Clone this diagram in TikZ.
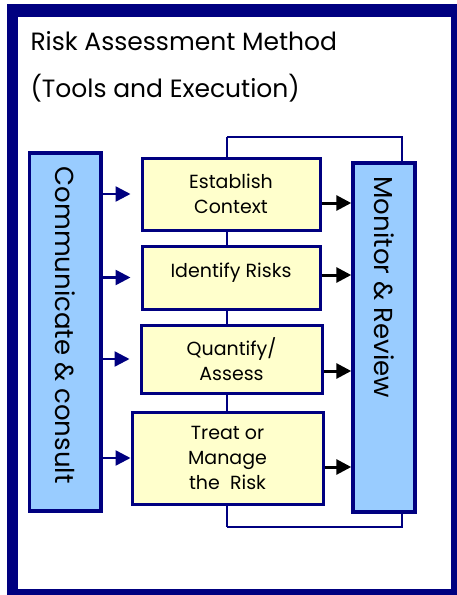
\documentclass[tikz,border=0pt]{standalone}
\usepackage{fontspec}
\setmainfont{Poppins}
\usetikzlibrary{arrows.meta}
\definecolor{frame}{HTML}{000080}
\definecolor{sidebox}{HTML}{99CCFF}
\definecolor{stepfill}{HTML}{FFFFCC}
\tikzset{%
    stage/.style={draw=frame, line width=3pt, fill=stepfill, align=center,
        font=\fontsize{19}{25}\selectfont, inner sep=0pt},
    side/.style={draw=frame, line width=3.5pt, fill=sidebox, inner sep=0pt},
    sidetext/.style={rotate=-90, anchor=west, font=\fontsize{26}{30}\selectfont},
    feed/.style={draw=frame, line width=2.5pt, -{Triangle[length=15pt,width=15pt]}},
    report/.style={draw=black, line width=3pt, -{Triangle[length=15pt,width=15pt]}},
    loopline/.style={draw=frame, line width=1.2pt}
}

\begin{document}
\begin{tikzpicture}[x=1pt,y=-1pt]
      \useasboundingbox (0,0) rectangle (456,595);
      \fill[frame] (7,4) rectangle (462,601);
      \fill[white] (18,17) rectangle (451,589);

      \node[anchor=base west, font=\fontsize{25}{28}\selectfont] (title) at (27,50) {Risk Assessment Method};
      \node[anchor=base west, font=\fontsize{25}{28}\selectfont] (subtitle) at (27,97) {(Tools and Execution)};

      \coordinate (topL) at (227,137);
      \coordinate (topR) at (402,137);
      \coordinate (botL) at (227,527);
      \coordinate (botR) at (402,527);
      \draw[loopline] (topL) -- (botL);

      \node[side, minimum width=71.5, minimum height=358] (comm) at (65,332) {};
      \node[sidetext] (commtext) at (65.5,163) {Communicate \& consult};
      \node[side, minimum width=62, minimum height=349] (mon) at (384,337.5) {};
      \node[sidetext] (montext) at (384.5,173) {Monitor \& Review};

      \node[stage, minimum width=178, minimum height=72] (est) at (231,194) {Establish\\Context};
      \node[stage, minimum width=178, minimum height=63, text depth=14pt] (ident) at (231,277.5) {Identify Risks};
      \node[stage, minimum width=181, minimum height=68] (quant) at (231.5,359) {Quantify/\\Assess};
      \node[stage, minimum width=191, minimum height=92] (treat) at (227.5,458) {Treat or\\Manage\\the~ Risk};

      \draw[loopline] (topL) -- (topR) -- (topR |- mon.north);
      \draw[loopline] (botL) -- (botR) -- (botR |- mon.south);

      % inputs from communicate & consult
      \draw[feed] (comm.east |- est.west) -- ([xshift=-10pt]est.west);
      \draw[feed] (comm.east |- ident.west) -- ([xshift=-10pt]ident.west);
      \draw[feed] (comm.east |- quant.west) -- ([xshift=-10pt]quant.west);
      \draw[feed] (comm.east |- treat.west) -- (treat.west);

      % outputs to monitor & review
      \coordinate (r1) at ([yshift=-9pt]est.east);
      \coordinate (r2) at ([yshift=2.5pt]ident.east);
      \coordinate (r3) at ([yshift=-12pt]quant.east);
      \coordinate (r4) at ([yshift=-9pt]treat.east);
      \draw[report] (r1) -- (r1 -| mon.west);
      \draw[report] (r2) -- (r2 -| mon.west);
      \draw[report] (r3) -- (r3 -| mon.west);
      \draw[report] (r4) -- (r4 -| mon.west);
\end{tikzpicture}
\end{document}
